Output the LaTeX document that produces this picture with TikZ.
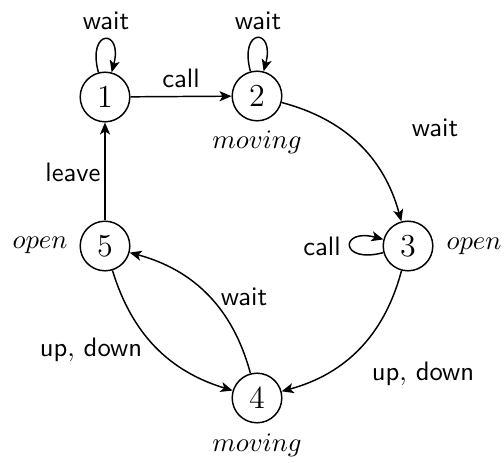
\documentclass[tikz,border=0pt]{standalone}
\usetikzlibrary{arrows.meta}
\begin{document}
\begin{tikzpicture}[x=0.375pt,y=-0.375pt,
  >={Stealth[length=4.5pt,width=3.8pt,inset=1.2pt]},
  line width=0.55pt,
  st/.style={circle,draw,minimum size=18.6pt,inner sep=0pt,font=\large},
  lab/.style={font=\sffamily,inner sep=0pt},
  outlab/.style={inner sep=0pt},
  lp/.style={min distance=6mm,looseness=8}]
\useasboundingbox (0,0) rectangle (504,462);
\node[st] (n1) at (105,97) {$1$};
\node[st] (n2) at (257,96) {$2$};
\node[st] (n3) at (408,246) {$3$};
\node[st] (n4) at (257,398) {$4$};
\node[st] (n5) at (105,246) {$5$};
% outputs
\node[outlab] (m2) at (257,142) {$moving$};
\node[outlab] (o3) at (474,246) {$open$};
\node[outlab] (m4) at (257,445) {$moving$};
\node[outlab] (o5) at (40,245) {$open$};
% connectors
\draw[->] (n1) to[loop above,lp] (n1);
\draw[->] (n2) to[loop above,lp] (n2);
\draw[->] (n3) to[loop left,lp] (n3);
\draw[->] (n1) -- (n2);
\draw[->] (n2) to[bend left=30] (n3);
\draw[->] (n3) to[bend left=30] (n4);
\draw[->] (n4) to[bend right=30] (n5);
\draw[->] (n5) to[bend right=28] (n4);
\draw[->] (n5) -- (n1);
% labels
\node[lab] (l11) at (106,21) {wait};
\node[lab] (l22) at (258,21) {wait};
\node[lab] (l12) at (181,78) {call};
\node[lab] (l23) at (435,128) {wait};
\node[lab] (l33) at (322,246) {call};
\node[lab] (l34) at (423,374) {up$,$ down};
\node[lab] (l45) at (244,297) {wait};
\node[lab] (l54) at (91,350) {up$,$ down};
\node[lab] (l51) at (73,172) {leave};
\end{tikzpicture}
\end{document}
